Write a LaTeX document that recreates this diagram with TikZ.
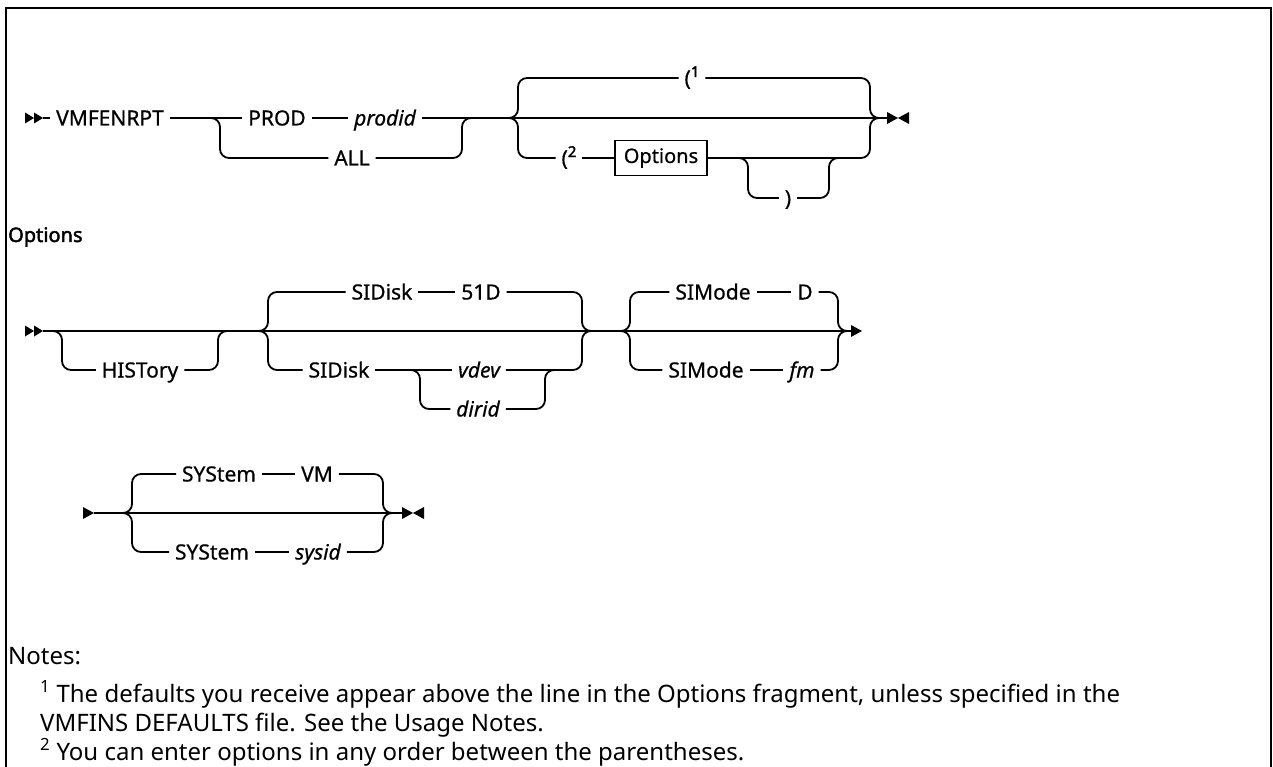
\documentclass[tikz,border=0pt]{standalone}
\usepackage{fontspec}
\setmainfont{Noto Sans}
\newfontfamily\lblfont{Noto Sans}[FakeBold=0.6]
\newfontfamily\hdfont{Noto Sans}[FakeBold=2.2]
\begin{document}
\begin{tikzpicture}[x=1pt,y=-1pt,
  ln/.style={line width=1.8pt},
  rr/.style={line width=1.8pt, rounded corners=9pt},
  lbl/.style={inner xsep=6pt, inner ysep=0pt, outer sep=0pt, text height=15pt, text depth=0pt, font=\lblfont\fontsize{21}{24}\selectfont},
  it/.style={lbl, font=\lblfont\itshape\fontsize{21}{24}\selectfont},
  boxn/.style={draw, line width=1.5pt, inner sep=0pt, minimum width=92pt, minimum height=35pt, font=\lblfont\fontsize{20}{24}\selectfont},
  note/.style={anchor=base west, inner sep=0pt, font=\fontsize{24}{28}\selectfont},
  tip/.style={fill=black}
]
\newcommand\supn[1]{\raisebox{0.75ex}{\hdfont\fontsize{15}{15}\selectfont #1}}
\useasboundingbox (0,0) rectangle (1273,767);
\draw[line width=2.5pt] (6,767) -- (6,8) -- (1271,8) -- (1271,767);

% ---------- line 1 ----------
\fill[tip] (25,112.5) -- (34,118) -- (25,123.5) -- cycle;
\fill[tip] (34,112.5) -- (43,118) -- (34,123.5) -- cycle;
\coordinate (a1) at (43,118);
\node[lbl] (vmf) at (110,118) {VMFENRPT};
\coordinate (s1) at (210,118);
\node[lbl] (prod) at (277,118) {PROD};
\node[it] (prodid) at (385,118) {prodid};
\node[lbl] (all) at (352,158) {ALL};
\coordinate (j1) at (462,118);
\coordinate (s2) at (508,118);
\draw[ln] (a1) -- (vmf.west);
\draw[ln] (vmf.east) -- (prod.west);
\draw[ln] (prod.east) -- (prodid.west);
\draw[ln] (prodid.east) -- (s2);
\draw[rr] (s1) -- ++(10,0) |- (all.west);
\draw[rr] (all.east) -| (j1) -- ++(10,0);

\node[lbl] (p1) at (692,78) {(\supn{1}};
\node[lbl] (p2) at (569,158) {(\supn{2}};
\node[boxn] (opt) at (661,158) {Options};
\node[lbl] (rp) at (788,198) {)};
\coordinate (j2) at (870,118);
\coordinate (e1) at (887,118);
\coordinate (s3) at (738,158);
\coordinate (j3) at (829,158);
\draw[ln] (s2) -- (e1);
\draw[rr] (s2) -- ++(10,0) |- (p1.west);
\draw[rr] (p1.east) -| (j2) -- ++(10,0);
\draw[rr] (s2) -- ++(10,0) |- (p2.west);
\draw[ln] (p2.east) -- (opt.west);
\draw[rr] (opt.east) -| (j2) -- ++(10,0);
\draw[rr] (s3) -- ++(10,0) |- (rp.west);
\draw[rr] (rp.east) -| (j3) -- ++(10,0);
\fill[tip] (887,112) -- (898,118) -- (887,124) -- cycle;
\fill[tip] (909,112) -- (898,118) -- (909,124) -- cycle;

% ---------- Options fragment ----------
\node[anchor=west, inner sep=0pt, font=\hdfont\fontsize{20}{24}\selectfont] (opth) at (8,237) {Options};

\fill[tip] (25,325.5) -- (34,331) -- (25,336.5) -- cycle;
\fill[tip] (34,325.5) -- (43,331) -- (34,336.5) -- cycle;
\coordinate (a2) at (43,331);
\coordinate (s4) at (52,331);
\node[lbl] (hist) at (140,370) {HISTory};
\coordinate (j4) at (218,331);
\coordinate (s5) at (258,331);
\node[lbl] (sid1) at (382,292) {SIDisk};
\node[lbl] (d51) at (481,292) {51D};
\node[lbl] (sid2) at (339,370) {SIDisk};
\coordinate (s6) at (410,370);
\node[it] (vdev) at (479,370) {vdev};
\node[it] (dirid) at (478,409) {dirid};
\coordinate (j6) at (545,370);
\coordinate (j5) at (582,331);
\coordinate (s7) at (620,331);
\node[lbl] (sim1) at (713,292) {SIMode};
\node[lbl] (dd) at (805,292) {D};
\node[lbl] (sim2) at (706,370) {SIMode};
\node[it] (fm) at (802,370) {fm};
\coordinate (j7) at (838,331);
\coordinate (e2) at (851,331);
\draw[ln] (a2) -- (e2);
\draw[rr] (s4) -- ++(10,0) |- (hist.west);
\draw[rr] (hist.east) -| (j4) -- ++(10,0);
\draw[rr] (s5) -- ++(10,0) |- (sid1.west);
\draw[ln] (sid1.east) -- (d51.west);
\draw[rr] (d51.east) -| (j5) -- ++(10,0);
\draw[rr] (s5) -- ++(10,0) |- (sid2.west);
\draw[ln] (sid2.east) -- (vdev.west);
\draw[rr] (vdev.east) -| (j5) -- ++(10,0);
\draw[rr] (s6) -- ++(10,0) |- (dirid.west);
\draw[rr] (dirid.east) -| (j6) -- ++(10,0);
\draw[rr] (s7) -- ++(10,0) |- (sim1.west);
\draw[ln] (sim1.east) -- (dd.west);
\draw[rr] (dd.east) -| (j7) -- ++(10,0);
\draw[rr] (s7) -- ++(10,0) |- (sim2.west);
\draw[ln] (sim2.east) -- (fm.west);
\draw[rr] (fm.east) -| (j7) -- ++(10,0);
\fill[tip] (851,325) -- (862,331) -- (851,337) -- cycle;

% ---------- line 3 ----------
\fill[tip] (83,507) -- (94,513) -- (83,519) -- cycle;
\coordinate (a3) at (94,513);
\coordinate (s8) at (122,513);
\node[lbl] (sys1) at (219,474) {SYStem};
\node[lbl] (vm) at (317,474) {VM};
\node[lbl] (sys2) at (212,552) {SYStem};
\node[it] (sysid) at (318,552) {sysid};
\coordinate (j8) at (383,513);
\coordinate (e3) at (402,513);
\draw[ln] (a3) -- (e3);
\draw[rr] (s8) -- ++(10,0) |- (sys1.west);
\draw[ln] (sys1.east) -- (vm.west);
\draw[rr] (vm.east) -| (j8) -- ++(10,0);
\draw[rr] (s8) -- ++(10,0) |- (sys2.west);
\draw[ln] (sys2.east) -- (sysid.west);
\draw[rr] (sysid.east) -| (j8) -- ++(10,0);
\fill[tip] (402,507) -- (413,513) -- (402,519) -- cycle;
\fill[tip] (424,507) -- (413,513) -- (424,519) -- cycle;

% ---------- notes ----------
\node[note] (notes) at (8,664) {Notes:};
\node[note] (n1) at (40,702) {\textsuperscript{1} The defaults you receive appear above the line in the Options fragment, unless specified in the};
\node[note] (n1b) at (40,731) {VMFINS DEFAULTS file. See the Usage Notes.};
\node[note] (n2) at (40,760) {\textsuperscript{2} You can enter options in any order between the parentheses.};
\end{tikzpicture}
\end{document}
